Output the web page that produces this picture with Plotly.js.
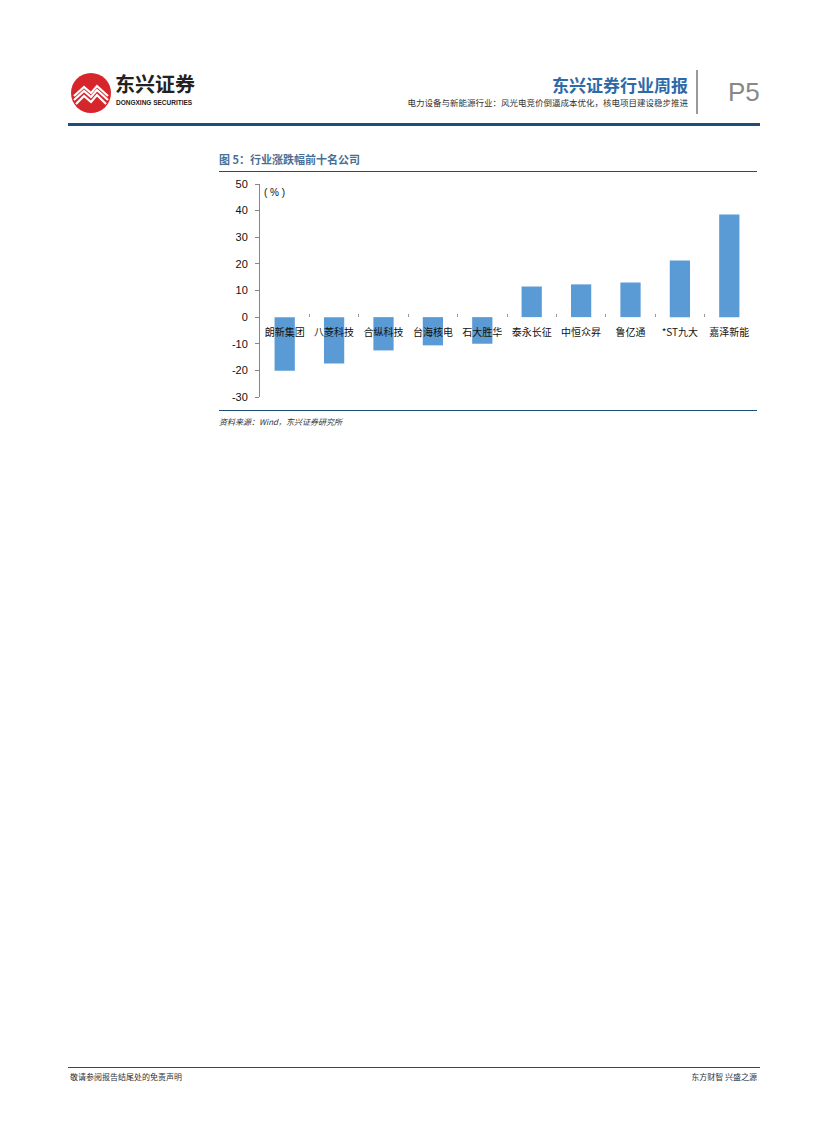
<!DOCTYPE html>
<html>
<head>
<meta charset="utf-8">
<script src="https://cdn.plot.ly/plotly-3.0.1.min.js"></script>
<style>
  html, body { margin:0; padding:0; background:#fff; }
  #page { position:relative; width:827px; height:1122px; overflow:hidden; font-family:"Noto Sans CJK SC","Liberation Sans",sans-serif; }
  #chart { position:absolute; left:0; top:0; width:827px; height:1122px; }
  .abs { position:absolute; white-space:nowrap; line-height:1; }
</style>
</head>
<body>
<div id="page">
  <div id="chart"></div>

  <!-- header logo -->
  <svg class="abs" style="left:70px;top:72px" width="42" height="42" viewBox="0 0 42 42">
    <circle cx="21" cy="21" r="20" fill="#d7262b"/>
    <path d="M4 24 L14 15 L21 21 L27 14 L38 24" stroke="#fff" stroke-width="2.2" fill="none"/>
    <path d="M4 28 L14 19 L21 25 L27 18 L38 28" stroke="#fff" stroke-width="2.2" fill="none"/>
    <path d="M6 32 L14 24 L21 30 L27 23 L36 32" stroke="#fff" stroke-width="2.2" fill="none"/>
  </svg>
  <div class="abs" style="left:115px;top:74px;font-size:20px;font-weight:bold;color:#222;">东兴证券</div>
  <div class="abs" style="left:116px;top:100px;font-size:6.5px;font-family:'Liberation Sans';font-weight:bold;color:#222;">DONGXING SECURITIES</div>

  <div class="abs" style="right:139px;top:76px;font-size:17px;font-weight:bold;color:#2e6aa8;">东兴证券行业周报</div>
  <div class="abs" style="right:139px;top:98px;font-size:8.5px;color:#333;">电力设备与新能源行业：风光电竞价倒逼成本优化，核电项目建设稳步推进</div>
  <div class="abs" style="left:696px;top:70px;width:2px;height:44px;background:#999;"></div>
  <div class="abs" style="left:728px;top:79px;font-size:26px;color:#888;font-family:'Liberation Sans';">P5</div>
  <div class="abs" style="left:68px;top:123px;width:692px;height:3px;background:#1f4e79;"></div>

  <!-- figure title -->
  <div class="abs" style="left:219px;top:154px;font-size:11px;font-weight:bold;color:#4a6f96;">图 5：行业涨跌幅前十名公司</div>
  <div class="abs" style="left:219px;top:171px;width:538px;height:1px;background:#1f4e79;"></div>
  <div class="abs" style="left:219px;top:410px;width:538px;height:1px;background:#1f4e79;"></div>
  <div class="abs" style="left:219px;top:418px;font-size:8px;font-style:italic;color:#333;">资料来源：Wind，东兴证券研究所</div>

  <!-- footer -->
  <div class="abs" style="left:68px;top:1067px;width:692px;height:1px;background:#1f4e79;"></div>
  <div class="abs" style="left:70px;top:1073px;font-size:8px;color:#333;">敬请参阅报告结尾处的免责声明</div>
  <div class="abs" style="right:70px;top:1073px;font-size:8px;color:#333;">东方财智 兴盛之源</div>
</div>

<script>
const companies = ["朗新集团","八菱科技","合纵科技","台海核电","石大胜华","泰永长征","中恒众昇","鲁亿通","*ST九大","嘉泽新能"];
const changes = [-20.1, -17.4, -12.5, -10.6, -10.0, 11.5, 12.3, 13.0, 21.3, 38.5];
const yTicks = [-30, -20, -10, 0, 10, 20, 30, 40, 50];

const trace = {
  type: "bar",
  x: companies,
  y: changes,
  marker: { color: "#5b9bd5" },
  hoverinfo: "x+y"
};

const layout = {
  width: 827,
  height: 1122,
  margin: { l: 260, r: 73, t: 184, b: 725, pad: 0 },
  paper_bgcolor: "rgba(0,0,0,0)",
  plot_bgcolor: "rgba(0,0,0,0)",
  showlegend: false,
  bargap: 0.59,
  font: { family: "Liberation Sans, Noto Sans CJK SC, sans-serif", size: 11, color: "#111" },
  xaxis: {
    type: "category",
    anchor: "free",
    position: 0.375,
    showline: false,
    showgrid: false,
    zeroline: false,
    ticks: "inside",
    ticklen: 3,
    tickcolor: "#999",
    tickson: "boundaries",
    tickangle: 0,
    ticklabelstandoff: 8,
    automargin: false,
    tickfont: { family: "Noto Sans CJK SC, sans-serif", size: 10, color: "#111" },
    fixedrange: true
  },
  yaxis: {
    range: [-30, 50],
    tickvals: yTicks,
    ticktext: yTicks.map(String),
    showline: true,
    linecolor: "#868686",
    linewidth: 1,
    ticks: "outside",
    ticklen: 4,
    tickcolor: "#868686",
    ticklabelstandoff: 5,
    showgrid: false,
    zeroline: false,
    automargin: false,
    tickfont: { family: "Liberation Sans, sans-serif", size: 11, color: "#111" },
    fixedrange: true
  },
  annotations: [{
    xref: "paper", yref: "paper", x: 0.005, y: 0.995,
    xanchor: "left", yanchor: "top",
    text: "( % )", showarrow: false,
    font: { family: "Liberation Sans, sans-serif", size: 10, color: "#111" }
  }]
};

Plotly.newPlot("chart", [trace], layout, { displayModeBar: false, staticPlot: true });
</script>
</body>
</html>
